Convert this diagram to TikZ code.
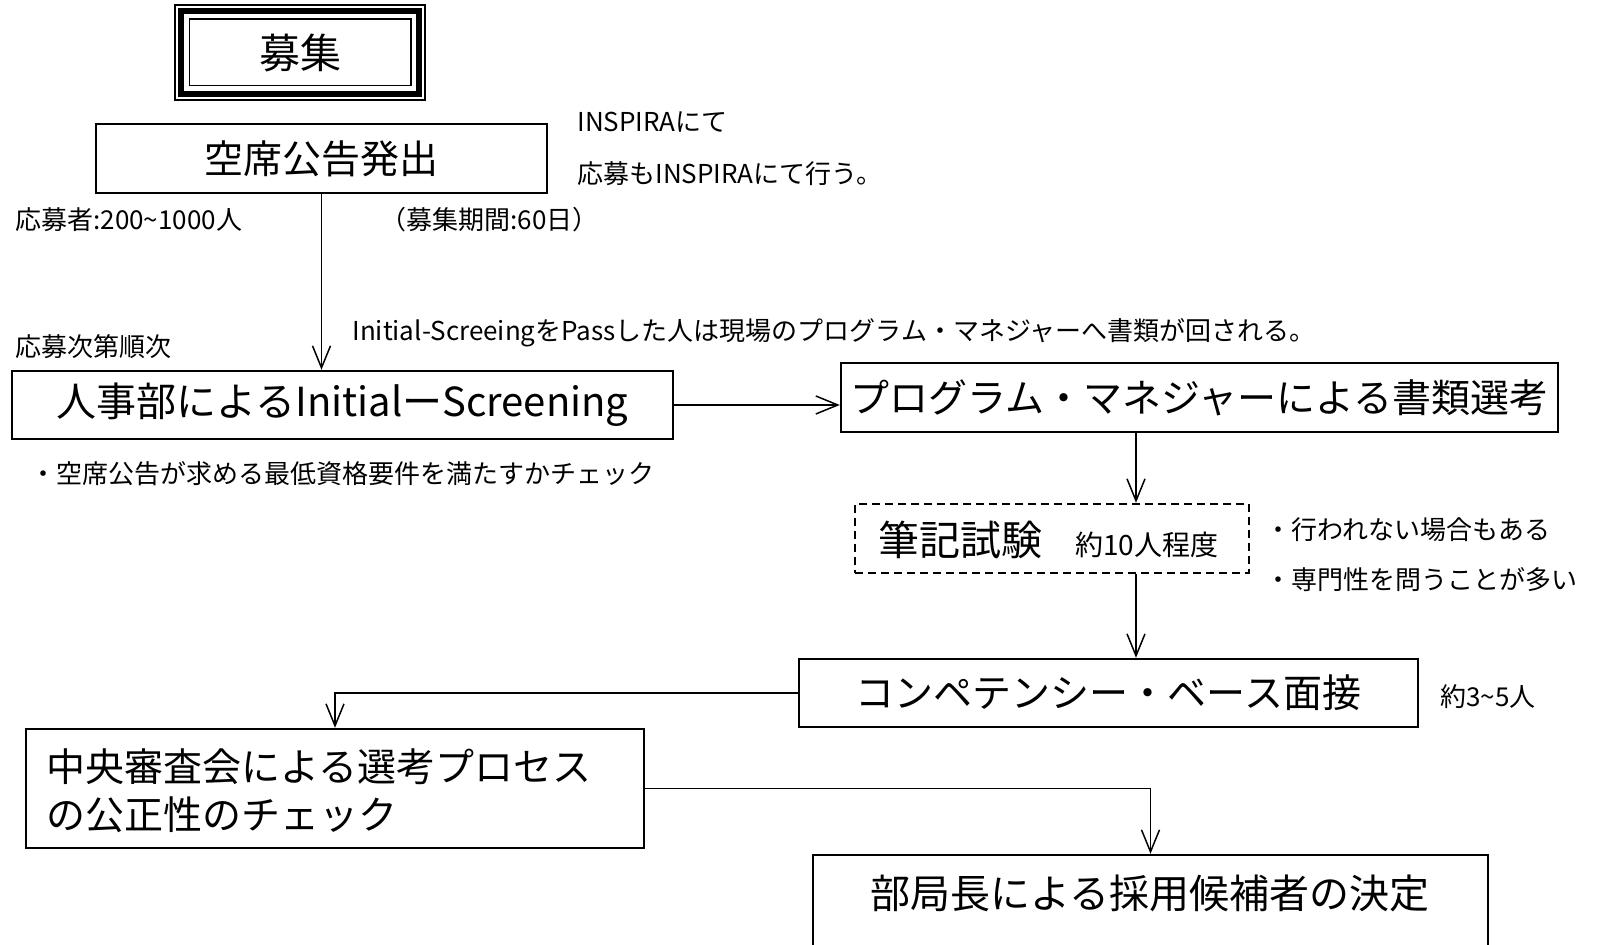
\documentclass[tikz,border=0pt]{standalone}
\usepackage{fontspec}
\setmainfont{Noto Sans CJK JP}
\usetikzlibrary{arrows.meta,calc}
\tikzset{
  box/.style={draw, line width=1.2pt, inner sep=0pt},
  big/.style={font=\fontsize{19.5pt}{24pt}\selectfont},
  small/.style={font=\fontsize{13pt}{15pt}\selectfont, inner sep=0pt, anchor=west},
  conn/.style={line width=0.75pt, -{Straight Barb[length=11pt,width=9pt,line width=0.75pt]}},
}
\newcommand{\tld}{\textasciitilde}
\begin{document}
\begin{tikzpicture}[x=0.5pt,y=-0.5pt]
\useasboundingbox (0,0) rectangle (1607,945);
\clip (0,0) rectangle (1607,945);
\fill[white] (0,0) rectangle (1607,945);
% boxes
\node[draw, line width=0.6pt, inner sep=0pt, minimum width=125pt, minimum height=47.5pt, font=\fontsize{20.5pt}{24pt}\selectfont] (boshu) at (300,52.5) {募集};
\draw[line width=3pt] ([shift={(3.5pt,-3.5pt)}]boshu.north west) rectangle ([shift={(-3.5pt,3.5pt)}]boshu.south east);
\draw[line width=0.9pt] ([shift={(7.5pt,-7.5pt)}]boshu.north west) rectangle ([shift={(-7.5pt,7.5pt)}]boshu.south east);
\node[box, big, minimum width=225.5pt, minimum height=34.5pt] (kuseki) at (321.5,158.5) {空席公告発出};
\node[box, font=\fontsize{20pt}{24pt}\selectfont, minimum width=330.5pt, minimum height=34pt] (jinji) at (342.5,405) {人事部によるInitialーScreening};
\node[box, big, minimum width=358.5pt, minimum height=34.5pt] (pm) at (1199.5,397.5) {プログラム・マネジャーによる書類選考};
\node[box, dash pattern=on 4pt off 2.5pt, minimum width=197pt, minimum height=34.5pt] (hikki) at (1052,538.5) {};
\node[box, big, minimum width=309.5pt, minimum height=34pt] (comp) at (1108.5,693) {コンペテンシー・ベース面接};
\node[box, minimum width=309pt, minimum height=59.5pt] (chuo) at (335,788.5) {};
\node[box, minimum width=337.5pt, minimum height=55pt] (bukyoku) at (1150.5,910) {};
% box texts
\node[anchor=west, inner sep=0pt, font=\fontsize{20.5pt}{24pt}\selectfont] (hikkiA) at (878,540) {筆記試験};
\node[small, font=\fontsize{14pt}{16pt}\selectfont] (hikkiB) at (1075,545) {約10人程度};
\node[anchor=west, inner sep=0pt, align=left, font=\fontsize{19.5pt}{24pt}\selectfont] (chuoT) at (46,791) {中央審査会による選考プロセス\\の公正性のチェック};
\node[inner sep=0pt, font=\fontsize{20pt}{24pt}\selectfont] (bukyokuT) at (1150,893) {部局長による採用候補者の決定};
% notes
\node[small] (n1) at (577,122) {INSPIRAにて};
\node[small] (n2) at (577,174) {応募もINSPIRAにて行う。};
\node[small] (n3) at (15,220) {応募者:200\tld1000人};
\node[small] (n4) at (380,220) {（募集期間:60日）};
\node[small] (n5) at (15,347) {応募次第順次};
\node[small] (n6) at (352,333) {Initial-ScreeingをPassした人は現場のプログラム・マネジャーへ書類が回される。};
\node[small] (n7) at (30,474) {・空席公告が求める最低資格要件を満たすかチェック};
\node[small] (n8) at (1265,530) {・行われない場合もある};
\node[small] (n9) at (1265,580) {・専門性を問うことが多い};
\node[small] (n10) at (1440,697) {約3\tld5人};
% connectors
\coordinate (xa) at (1136,0);
\draw[conn] (kuseki.south) -- (kuseki.south |- jinji.north);
\draw[conn] (jinji.east) -- (jinji.east -| pm.west);
\draw[conn] (pm.south -| xa) -- (hikki.north -| xa);
\draw[conn] (hikki.south -| xa) -- (comp.north -| xa);
\draw[conn] (comp.west) -| (chuo.north);
\draw[conn] (chuo.east) -| (bukyoku.north);
\end{tikzpicture}
\end{document}
